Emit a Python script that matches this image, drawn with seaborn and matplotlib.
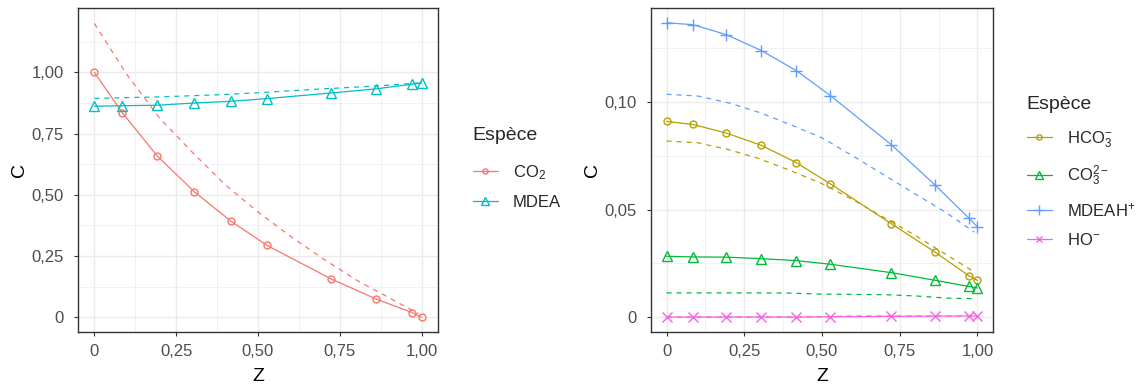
import numpy as np
import pandas as pd
import matplotlib
matplotlib.use("Agg")
import matplotlib.pyplot as plt
import seaborn as sns
from matplotlib.lines import Line2D
from matplotlib.ticker import FixedLocator, FuncFormatter

# ------------------------------------------------------------------
# Data (Z = position, C = concentration)
# ------------------------------------------------------------------
z_pts = [0, 0.085, 0.192, 0.305, 0.417, 0.527, 0.723, 0.862, 0.972, 1.0]
z_dash = [0, 0.1, 0.2, 0.3, 0.4, 0.5, 0.6, 0.7, 0.8, 0.9, 0.99]

# panel gauche : CO2 et MDEA
co2_sol = [1.0, 0.836, 0.659, 0.513, 0.393, 0.294, 0.157, 0.074, 0.019, 0.0]
mdea_sol = [0.862, 0.864, 0.866, 0.875, 0.882, 0.893, 0.916, 0.933, 0.952, 0.957]
co2_dash = [1.20, 0.99, 0.812, 0.673, 0.541, 0.43, 0.33, 0.238, 0.153, 0.08, 0.015]
mdea_dash = [0.894, 0.897, 0.90, 0.905, 0.91, 0.917, 0.925, 0.933, 0.94, 0.948, 0.957]

# panel droit : ions
hco3_sol = [0.0909, 0.0895, 0.0855, 0.0798, 0.0718, 0.0619, 0.0434, 0.0304, 0.0193, 0.0171]
co3_sol = [0.0283, 0.0280, 0.0279, 0.0272, 0.0263, 0.0246, 0.0207, 0.0172, 0.0143, 0.0136]
mdeah_sol = [0.1367, 0.1358, 0.1312, 0.1238, 0.1145, 0.1029, 0.0801, 0.0616, 0.0461, 0.0420]
ho_sol = [0.0001, 0.0001, 0.0001, 0.0001, 0.0001, 0.0002, 0.0004, 0.0005, 0.0006, 0.0006]
hco3_dash = [0.0818, 0.081, 0.0778, 0.0735, 0.068, 0.062, 0.0545, 0.0462, 0.038, 0.029, 0.021]
co3_dash = [0.0113, 0.0113, 0.0113, 0.0113, 0.0112, 0.0107, 0.0106, 0.0105, 0.0099, 0.0089, 0.0086]
mdeah_dash = [0.1035, 0.1027, 0.0995, 0.095, 0.0893, 0.0833, 0.0748, 0.066, 0.0572, 0.0485, 0.0395]
ho_dash = [0.0001, 0.0001, 0.0001, 0.0001, 0.0001, 0.0002, 0.0006, 0.0006, 0.0006, 0.0006, 0.0006]

labels_gauche = ["CO$_2$", "MDEA"]
labels_droit = ["HCO$_3^{-}$", "CO$_3^{2-}$", "MDEAH$^{+}$", "HO$^{-}$"]

x_ticks = [0, 0.25, 0.5, 0.75, 1.0]
y_ticks_gauche = [0, 0.25, 0.5, 0.75, 1.0]
y_ticks_droit = [0, 0.05, 0.10]

# ------------------------------------------------------------------
# Style (proche de theme_bw de ggplot)
# ------------------------------------------------------------------
sns.set_theme(style="white")
plt.rcParams['font.family'] = ['Liberation Sans', 'DejaVu Sans']
plt.rcParams['mathtext.fontset'] = 'custom'
plt.rcParams['mathtext.rm'] = 'Liberation Sans'
plt.rcParams['mathtext.it'] = 'Liberation Sans'
plt.rcParams['mathtext.default'] = 'regular'

couleurs_gauche = ["#F8766D", "#00BFC4"]
couleurs_droit = ["#B79F00", "#00BA38", "#619CFF", "#F564E3"]
marq_gauche = ["o", "^"]
marq_droit = ["o", "^", "+", "x"]
taille_marq = {"o": 5, "^": 7, "+": 9, "x": 6.5}

fig = plt.figure(figsize=(11.4, 3.87), dpi=100)
ax1 = fig.add_axes([78 / 1140, 55 / 387, 360 / 1140, 324 / 387])
ax2 = fig.add_axes([651 / 1140, 55 / 387, 342 / 1140, 324 / 387])


def virgule(v, pos):
    if abs(v) < 1e-12:
        return "0"
    return f"{v:.2f}".replace(".", ",")


def tracer(ax, sol, dash, couleurs, marqs, labels):
    handles = []
    for s, d, c, m, lab in zip(sol, dash, couleurs, marqs, labels):
        sns.lineplot(x=z_dash, y=d, ax=ax, color=c, lw=0.9,
                     dashes=False, linestyle=(0, (4, 4)), zorder=3)
        sns.lineplot(x=z_pts, y=s, ax=ax, color=c, lw=0.9, marker=m,
                     markersize=taille_marq[m], markerfacecolor="none",
                     markeredgecolor=c, markeredgewidth=1.0, zorder=4)
        handles.append(Line2D([], [], color=c, lw=0.9, marker=m,
                              markersize=taille_marq[m] * 0.75,
                              markerfacecolor="none", markeredgecolor=c,
                              markeredgewidth=1.0, label=lab))
    return handles


h1 = tracer(ax1, [co2_sol, mdea_sol], [co2_dash, mdea_dash],
            couleurs_gauche, marq_gauche, labels_gauche)
h2 = tracer(ax2, [hco3_sol, co3_sol, mdeah_sol, ho_sol],
            [hco3_dash, co3_dash, mdeah_dash, ho_dash],
            couleurs_droit, marq_droit, labels_droit)

# limites avec expansion de 5 %
ax1.set_xlim(-0.05, 1.05)
ax2.set_xlim(-0.05, 1.05)
ax1.set_ylim(-0.06, 1.263)
ax2.set_ylim(-0.00685, 0.14355)

for ax, yt in [(ax1, y_ticks_gauche), (ax2, y_ticks_droit)]:
    ax.xaxis.set_major_locator(FixedLocator(x_ticks))
    ax.yaxis.set_major_locator(FixedLocator(yt))
    ax.xaxis.set_minor_locator(FixedLocator([0.125, 0.375, 0.625, 0.875]))
    pas = yt[1] - yt[0]
    ax.yaxis.set_minor_locator(FixedLocator([v + pas / 2 for v in yt]))
    ax.xaxis.set_major_formatter(FuncFormatter(virgule))
    ax.yaxis.set_major_formatter(FuncFormatter(virgule))
    ax.grid(True, which="major", color="#EBEBEB", lw=1.0, zorder=0)
    ax.grid(True, which="minor", color="#EBEBEB", lw=0.5, zorder=0)
    ax.set_axisbelow(True)
    for sp in ax.spines.values():
        sp.set_color("#333333")
        sp.set_linewidth(1.0)
    ax.tick_params(axis="both", which="major", length=3, width=0.8,
                   color="#333333", labelcolor="#4D4D4D", labelsize=12, pad=6,
                   bottom=True, left=True)
    ax.tick_params(axis="y", which="major", pad=7)
    ax.tick_params(axis="both", which="minor", length=0)
    ax.set_xlabel("Z", fontsize=14, color="black", labelpad=6)
    ax.set_ylabel("C", fontsize=14, color="black", labelpad=3)

leg_kw = dict(frameon=False, fontsize=12, title="Espèce", title_fontsize=14,
              handlelength=1.5, handletextpad=0.9, labelspacing=0.8,
              alignment="left", borderaxespad=0)
leg1 = fig.legend(handles=h1, loc="upper left",
                  bbox_to_anchor=(466 / 1140, 1 - 120 / 387), **leg_kw)
leg2 = fig.legend(handles=h2, loc="upper left",
                  bbox_to_anchor=(1020 / 1140, 1 - 89 / 387), **leg_kw)
# un peu plus d'espace entre titre et entrées, comme dans ggplot
leg1._legend_box.sep = 14
leg2._legend_box.sep = 12

fig.savefig("out.png", dpi=100)
